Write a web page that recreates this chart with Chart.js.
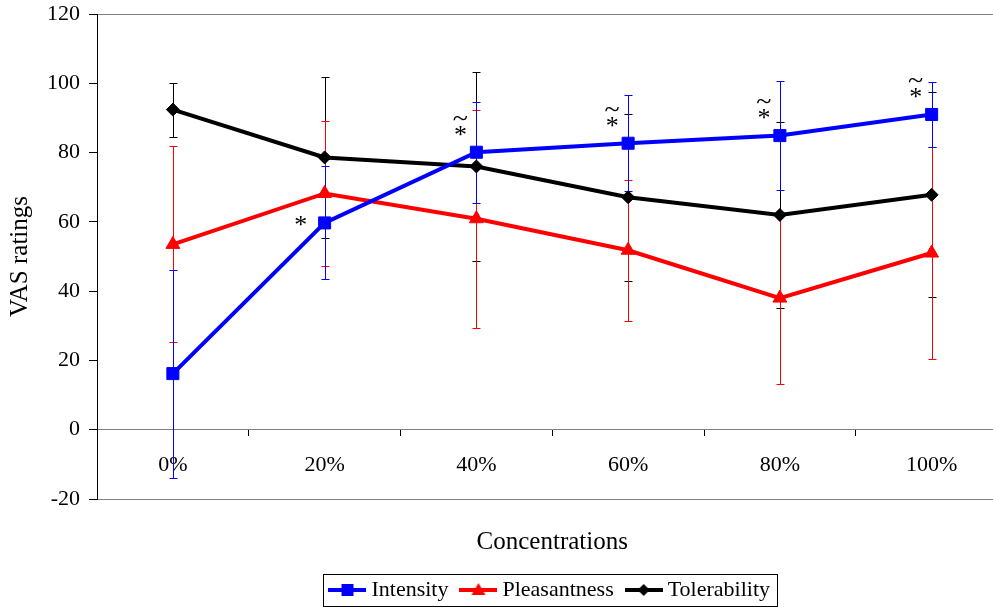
<!DOCTYPE html>
<html>
<head>
<meta charset="utf-8">
<title>VAS ratings by concentration</title>
<script src="https://cdn.jsdelivr.net/npm/chart.js@4/dist/chart.umd.min.js"></script>
<style>
  html, body { margin: 0; padding: 0; background: #fff; overflow: hidden; }
  #wrap { position: relative; width: 1017px; height: 607px; }
</style>
</head>
<body>
<div id="wrap"><canvas id="chart"></canvas></div>
<script>
// ---- data ----
const categories = ['0%', '20%', '40%', '60%', '80%', '100%'];

const intensity      = [16.2, 59.7, 80.1, 82.7, 84.9, 91.0];
const intensitySD    = [30.0, 16.3, 14.6, 13.8, 15.8, 9.4];

const pleasantness   = [53.5, 68.2, 60.9, 51.8, 38.0, 51.0];
const pleasantnessSD = [28.3, 21.0, 31.4, 20.3, 24.8, 30.7];

const tolerability   = [92.4, 78.6, 76.0, 67.1, 62.0, 67.8];
const tolerabilitySD = [7.8, 23.2, 27.4, 24.1, 26.9, 29.6];

// significance marks shown next to the Intensity points
const starMarks  = [false, true, true, true, true, true];
const tildeMarks = [false, false, true, true, true, true];
const markSide   = ['', 'left', 'above', 'above', 'above', 'above'];

// value axis
const yMin = -20;
const yMax = 120;
const yStep = 20;

const FONT = '"Liberation Serif", "Times New Roman", serif';

// ---- legend glyphs: a line with the series marker on it ----
function legendGlyph(color, shape) {
  const c = document.createElement('canvas');
  c.width = 38; c.height = 16;
  const g = c.getContext('2d');
  g.strokeStyle = color; g.fillStyle = color; g.lineWidth = 4;
  g.beginPath(); g.moveTo(0, 8); g.lineTo(38, 8); g.stroke();
  g.beginPath();
  if (shape === 'rect') {
    g.rect(13, 2, 12, 12);
  } else if (shape === 'triangle') {
    g.moveTo(19, 1); g.lineTo(26, 13); g.lineTo(12, 13); g.closePath();
  } else {
    g.moveTo(19, 2); g.lineTo(25, 8); g.lineTo(19, 14); g.lineTo(13, 8); g.closePath();
  }
  g.fill();
  return c;
}

// ---- plugins ----
const plotFrame = {
  id: 'plotFrame',
  beforeDraw(chart) {
    const {ctx, chartArea: a} = chart;
    ctx.save();
    ctx.strokeStyle = '#808080';
    ctx.lineWidth = 1;
    ctx.strokeRect(Math.round(a.left) + 0.5, Math.round(a.top) + 0.5,
                   Math.round(a.right - a.left), Math.round(a.bottom - a.top));
    ctx.restore();
  }
};

const errorBars = {
  id: 'errorBars',
  beforeDatasetsDraw(chart) {
    const ctx = chart.ctx;
    const ys = chart.scales.y;
    for (let i = chart.data.datasets.length - 1; i >= 0; i--) {
      const ds = chart.data.datasets[i];
      const meta = chart.getDatasetMeta(i);
      ctx.save();
      ctx.strokeStyle = ds.borderColor;
      ctx.lineWidth = 1;
      meta.data.forEach((pt, j) => {
        const v = ds.data[j], e = ds.errors[j];
        const x = Math.round(pt.x) + 0.5;
        const yt = Math.round(ys.getPixelForValue(v + e)) + 0.5;
        const yb = Math.round(ys.getPixelForValue(v - e)) + 0.5;
        ctx.beginPath();
        ctx.moveTo(x, yt); ctx.lineTo(x, yb);
        ctx.moveTo(x - 4, yt); ctx.lineTo(x + 4, yt);
        ctx.moveTo(x - 4, yb); ctx.lineTo(x + 4, yb);
        ctx.stroke();
      });
      ctx.restore();
    }
  }
};

const sigMarks = {
  id: 'sigMarks',
  afterDatasetsDraw(chart) {
    const ctx = chart.ctx;
    const meta = chart.getDatasetMeta(0);
    ctx.save();
    ctx.fillStyle = '#000';
    ctx.textAlign = 'center';
    ctx.textBaseline = 'middle';
    meta.data.forEach((pt, i) => {
      if (!starMarks[i]) return;
      let sx, sy;
      if (markSide[i] === 'left') { sx = pt.x - 24; sy = pt.y + 3; }
      else { sx = pt.x - 16; sy = pt.y - 16; }
      ctx.font = '26px ' + FONT;
      ctx.fillText('*', sx, sy);
      if (tildeMarks[i]) {
        ctx.font = '28px ' + FONT;
        ctx.fillText('~', sx, sy - 17);
      }
    });
    ctx.restore();
  }
};

const legendFrame = {
  id: 'legendFrame',
  afterDraw(chart) {
    const hb = chart.legend && chart.legend.legendHitBoxes;
    if (!hb || !hb.length) return;
    const first = hb[0], last = hb[hb.length - 1];
    const left = Math.round(first.left - 11) + 0.5;
    const right = Math.round(last.left + last.width + 7) + 0.5;
    const cy = first.top + 11;
    const top = Math.round(cy - 16) + 0.5;
    const bottom = Math.round(cy + 16) + 0.5;
    const ctx = chart.ctx;
    ctx.save();
    ctx.strokeStyle = '#000';
    ctx.lineWidth = 1;
    ctx.strokeRect(left, top, right - left, bottom - top);
    ctx.restore();
  }
};

const glyphs = [
  legendGlyph('#0000ff', 'rect'),
  legendGlyph('#ff0000', 'triangle'),
  legendGlyph('#000000', 'rectRot')
];

new Chart(document.getElementById('chart'), {
  type: 'line',
  data: {
    labels: categories,
    datasets: [
      {
        label: 'Intensity', data: intensity, errors: intensitySD,
        borderColor: '#0000ff', backgroundColor: '#0000ff',
        borderWidth: 4, pointStyle: 'rect', pointRadius: 8.5, pointHoverRadius: 8.5,
        pointBorderWidth: 1, tension: 0
      },
      {
        label: 'Pleasantness', data: pleasantness, errors: pleasantnessSD,
        borderColor: '#ff0000', backgroundColor: '#ff0000',
        borderWidth: 4, pointStyle: 'triangle', pointRadius: 8, pointHoverRadius: 8,
        pointBorderWidth: 1, tension: 0
      },
      {
        label: 'Tolerability', data: tolerability, errors: tolerabilitySD,
        borderColor: '#000000', backgroundColor: '#000000',
        borderWidth: 4, pointStyle: 'rectRot', pointRadius: 6.5, pointHoverRadius: 6.5,
        pointBorderWidth: 1, tension: 0
      }
    ]
  },
  options: {
    responsive: true,
    maintainAspectRatio: false,
    animation: false,
    events: [],
    layout: { padding: { top: 14, right: 2, left: 0, bottom: 0 } },
    scales: {
      x: {
        type: 'category',
        position: { y: 0 },
        offset: true,
        grid: { offset: true, drawOnChartArea: false, tickLength: 6, tickColor: '#000' },
        border: { color: '#808080', width: 1 },
        ticks: { color: '#000', font: { family: FONT, size: 22 }, padding: 16, maxRotation: 0 },
        afterFit(s) { s.height = 0; }
      },
      x2: {
        type: 'category',
        position: 'bottom',
        grid: { display: false },
        border: { display: false },
        ticks: { display: false },
        title: {
          display: true, text: 'Concentrations', color: '#000',
          font: { family: FONT, size: 25 }, padding: { top: 0, bottom: 5 }
        },
        afterFit(s) { s.height = 63; }
      },
      y: {
        min: yMin, max: yMax,
        ticks: { stepSize: yStep, color: '#000', font: { family: FONT, size: 22 }, padding: 9 },
        grid: { drawOnChartArea: false, tickLength: 8, tickColor: '#000' },
        border: { color: '#000', width: 1 },
        title: {
          display: true, text: 'VAS ratings', color: '#000',
          font: { family: FONT, size: 25 }, padding: { top: 5, bottom: 0 }
        },
        afterFit(s) { s.width = 97; s.paddingTop = 0; s.paddingBottom = 0; }
      }
    },
    plugins: {
      tooltip: { enabled: false },
      legend: {
        position: 'bottom',
        fullSize: false,
        maxHeight: 45,
        labels: {
          color: '#000',
          font: { family: FONT, size: 22 },
          usePointStyle: true,
          pointStyleWidth: 26,
          padding: 17,
          generateLabels(chart) {
            const items = Chart.defaults.plugins.legend.labels.generateLabels(chart);
            items.forEach((it, i) => { it.pointStyle = glyphs[i]; });
            return items;
          }
        }
      }
    }
  },
  plugins: [plotFrame, errorBars, sigMarks, legendFrame]
});
</script>
</body>
</html>
